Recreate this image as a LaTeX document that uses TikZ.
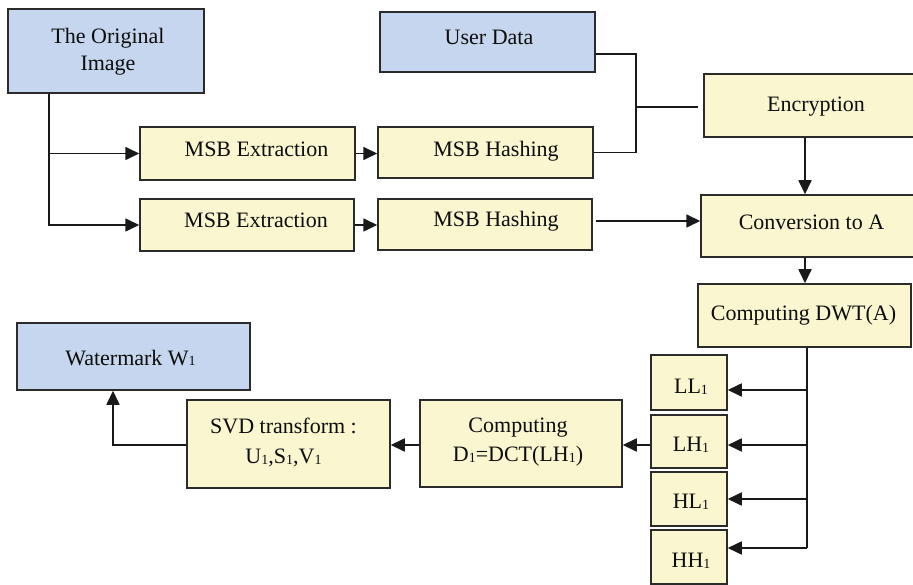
\documentclass[tikz,border=0pt]{standalone}
\usepackage{fontspec}
\setmainfont{Liberation Serif}
\usetikzlibrary{arrows.meta,calc}
\definecolor{bluebox}{HTML}{C5D6EE}
\definecolor{yelbox}{HTML}{FAF6D0}
\definecolor{edgecol}{HTML}{2B2B2B}
\newcommand\sbs[1]{\raisebox{-1pt}{\fontsize{14}{14}\selectfont #1}}
\begin{document}
\begin{tikzpicture}[x=1pt,y=-1pt,
  boxb/.style={draw=edgecol, line width=1.5pt, fill=bluebox, inner sep=0pt},
  boxy/.style={draw=edgecol, line width=1.5pt, fill=yelbox, inner sep=0pt},
  txt/.style={font=\fontsize{22}{27}\selectfont, inner sep=0pt, text=black!95, align=center},
  conn/.style={draw=black!90, line width=1.7pt},
  arr/.style={conn, -{Triangle[length=14pt,width=13pt]}},
]
\useasboundingbox (0,0) rectangle (913,585);
\fill[white] (0,0) rectangle (913,585);

% boxes
\node[boxb, minimum width=196pt, minimum height=84pt] (orig) at (106,51) {};
\node[boxb, minimum width=215pt, minimum height=60pt] (user) at (487.5,42) {};
\node[boxy, minimum width=215pt, minimum height=53pt] (ext1) at (247.5,153.5) {};
\node[boxy, minimum width=214pt, minimum height=52pt] (ext2) at (247,225) {};
\node[boxy, minimum width=215pt, minimum height=51pt] (hash1) at (485.5,152.5) {};
\node[boxy, minimum width=214pt, minimum height=51pt] (hash2) at (485,224.5) {};
\node[boxy, minimum width=221pt, minimum height=63pt] (enc) at (814.5,105.5) {};
\node[boxy, minimum width=224pt, minimum height=62pt] (conv) at (813,226) {};
\node[boxy, minimum width=213pt, minimum height=63pt] (dwt) at (804.5,315.5) {};
\node[boxy, minimum width=76pt, minimum height=55pt] (ll) at (689,382.5) {};
\node[boxy, minimum width=76pt, minimum height=53pt] (lh) at (689,441.5) {};
\node[boxy, minimum width=76pt, minimum height=54pt] (hl) at (689,499) {};
\node[boxy, minimum width=76pt, minimum height=54pt] (hh) at (689,557) {};
\node[boxy, minimum width=202pt, minimum height=87pt] (comp) at (521,443.5) {};
\node[boxy, minimum width=203pt, minimum height=88pt] (svd) at (288.5,444) {};
\node[boxb, minimum width=233pt, minimum height=67pt] (wm) at (133.5,356.5) {};

% texts
\node[txt] (t-orig) at (108,51.6) {The Original\\Image};
\node[txt, anchor=base] (t-user) at (489,45) {User Data};
\node[txt, anchor=base] (t-ext1) at (256.5,157) {MSB Extraction};
\node[txt, anchor=base] (t-ext2) at (256,228) {MSB Extraction};
\node[txt, anchor=base] (t-hash1) at (496,157) {MSB Hashing};
\node[txt, anchor=base] (t-hash2) at (496,227) {MSB Hashing};
\node[txt, anchor=base] (t-enc) at (816,112) {Encryption};
\node[txt, anchor=base] (t-conv) at (811.5,230) {Conversion to A};
\node[txt, anchor=base] (t-dwt) at (803.5,320) {Computing DWT(A)};
\node[txt, anchor=base] (t-wm) at (130.5,365) {Watermark W\sbs{1}};
\node[txt, anchor=base] (t-ll) at (691,393) {LL\sbs{1}};
\node[txt, anchor=base] (t-lh) at (691,451) {LH\sbs{1}};
\node[txt, anchor=base] (t-hl) at (691,508) {HL\sbs{1}};
\node[txt, anchor=base] (t-hh) at (691,567) {HH\sbs{1}};
\node[txt, font=\fontsize{22}{29.5}\selectfont] (t-comp) at (518,442) {Computing\\D\sbs{1}=DCT(LH\sbs{1})};
\node[txt, font=\fontsize{22}{30}\selectfont] (t-svd) at (283.5,442.2) {SVD transform :\\U\sbs{1},S\sbs{1},V\sbs{1}};

% helper coordinates
\coordinate (trunk) at (49,0);
\coordinate (ujoin) at (636,107);
\coordinate (colx) at (805,0);
\coordinate (colb) at (807,0);
\coordinate (bend) at (807,548);
\coordinate (h2y) at (0,221);
\coordinate (yLL) at (0,390);
\coordinate (yLH) at (0,445);
\coordinate (yHL) at (0,499);
\coordinate (yD) at (0,445);
\coordinate (wmx) at (113,0);

% connectors
\draw[arr] (orig.south -| trunk) |- (ext1.west);
\draw[arr] (orig.south -| trunk) |- (ext2.west);
\draw[arr] (ext1.east) -- (ext1.east -| hash1.west);
\draw[arr] (ext2.east) -- (ext2.east -| hash2.west);
\draw[conn] ($(user.east)+(0,12)$) -| (ujoin |- hash1.east) -- (hash1.east);
\draw[conn] (ujoin) -- ($(ujoin -| enc.west)+(-5,0)$);
\draw[arr] (enc.south -| colx) -- (conv.north -| colx);
\draw[arr] ($(hash2.east |- h2y)+(3,0)$) -- (conv.west |- h2y);
\draw[arr] (conv.south -| colx) -- (dwt.north -| colx);
\draw[conn] (dwt.south -| colb) -- (bend);
\draw[arr] (colb |- yLL) -- (ll.east |- yLL);
\draw[arr] (colb |- yLH) -- (lh.east |- yLH);
\draw[arr] (colb |- yHL) -- (hl.east |- yHL);
\draw[arr] (bend) -- (hh.east |- bend);
\draw[arr] (lh.west |- yD) -- (comp.east |- yD);
\draw[arr] (comp.west |- yD) -- (svd.east |- yD);
\draw[arr] (svd.west |- yD) -| (wm.south -| wmx);
\end{tikzpicture}
\end{document}
